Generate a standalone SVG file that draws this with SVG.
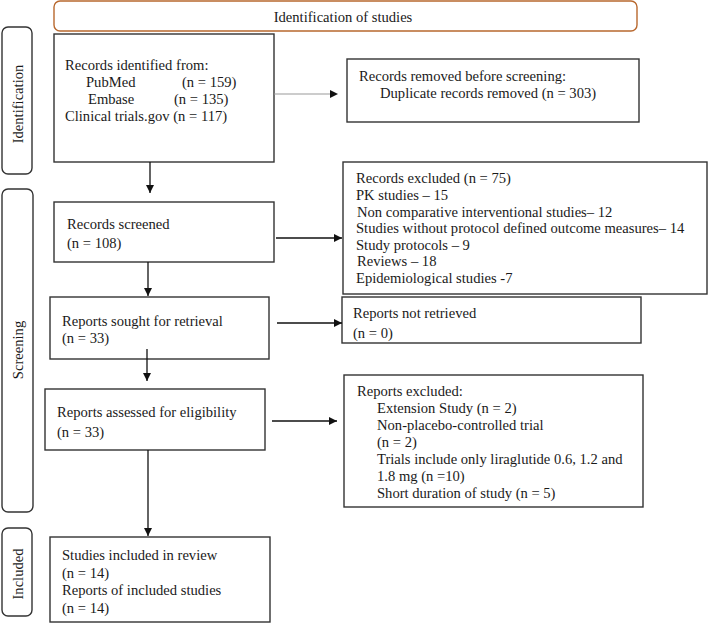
<svg xmlns="http://www.w3.org/2000/svg" width="708" height="623" viewBox="0 0 708 623">
<style>
text{font-family:"Liberation Serif","DejaVu Serif",serif;font-size:14.6px;fill:#1a1a1a}
.box{fill:#fff;stroke:#333;stroke-width:1.4}
.side{fill:#fff;stroke:#333;stroke-width:1.4}
.con{stroke:#111;stroke-width:1.3;fill:none}
.gray{stroke:#999;stroke-width:1}
</style>
<defs>
<marker id="ah" viewBox="0 0 10 10" refX="10" refY="5" markerWidth="8" markerHeight="8" markerUnits="userSpaceOnUse" orient="auto">
<path d="M0,0 L10,5 L0,10 z" fill="#111"/>
</marker>
</defs>
<rect width="708" height="623" fill="#fff"/>
<g id="title"><rect x="54" y="1" width="583" height="30" rx="6" fill="#fff" stroke="#b8682e" stroke-width="1.4"/>
<text x="343" y="22" text-anchor="middle">Identification of studies</text></g>
<g id="side-identification"><rect class="side" x="2" y="27" width="30" height="147" rx="6"/>
<text transform="translate(23,104) rotate(-90)" text-anchor="middle">Identification</text></g>
<g id="side-screening"><rect class="side" x="2" y="189" width="31" height="323" rx="6"/>
<text transform="translate(23,350) rotate(-90)" text-anchor="middle">Screening</text></g>
<g id="side-included"><rect class="side" x="2" y="528" width="30" height="88" rx="6"/>
<text transform="translate(23,574) rotate(-90)" text-anchor="middle">Included</text></g>
<g id="n-identified"><rect class="box" x="54" y="34" width="220" height="128"/>
<text x="65" y="70">Records identified from:</text>
<text x="86" y="87">PubMed</text><text x="182" y="87">(n = 159)</text>
<text x="88" y="104">Embase</text><text x="174" y="104">(n = 135)</text>
<text x="65" y="121">Clinical trials.gov (n = 117)</text></g>
<g id="n-removed"><rect class="box" x="347" y="59" width="292" height="63"/>
<text x="359" y="81">Records removed before screening:</text>
<text x="380" y="98">Duplicate records removed (n = 303)</text></g>
<g id="n-screened"><rect class="box" x="54" y="202" width="220" height="60"/>
<text x="67" y="229">Records screened</text>
<text x="67" y="248">(n = 108)</text></g>
<g id="n-excluded"><rect class="box" x="343" y="162" width="364" height="132"/>
<text x="356" y="183">Records excluded (n = 75)</text>
<text x="356" y="200">PK studies – 15</text>
<text x="357" y="217">Non comparative interventional studies– 12</text>
<text x="356" y="233">Studies without protocol defined outcome measures– 14</text>
<text x="356" y="250">Study protocols – 9</text>
<text x="357" y="266">Reviews – 18</text>
<text x="356" y="283">Epidemiological studies -7</text></g>
<g id="n-sought"><rect class="box" x="50" y="297" width="219" height="62"/>
<text x="62" y="326">Reports sought for retrieval</text>
<text x="62" y="343">(n = 33)</text></g>
<g id="n-notretrieved"><rect class="box" x="342" y="297" width="299" height="46"/>
<text x="353" y="318">Reports not retrieved</text>
<text x="353" y="338">(n = 0)</text></g>
<g id="n-assessed"><rect class="box" x="45" y="389" width="220" height="61"/>
<text x="57" y="417">Reports assessed for eligibility</text>
<text x="57" y="437">(n = 33)</text></g>
<g id="n-reportsexcluded"><rect class="box" x="344" y="375" width="299" height="132"/>
<text x="357" y="396">Reports excluded:</text>
<text x="377" y="413">Extension Study (n = 2)</text>
<text x="377" y="430">Non-placebo-controlled trial</text>
<text x="377" y="447">(n = 2)</text>
<text x="377" y="464">Trials include only liraglutide 0.6, 1.2 and</text>
<text x="377" y="481">1.8 mg (n =10)</text>
<text x="377" y="498">Short duration of study (n = 5)</text></g>
<g id="n-included"><rect class="box" x="50" y="537" width="220" height="85"/>
<text x="62" y="560">Studies included in review</text>
<text x="62" y="578">(n = 14)</text>
<text x="62" y="595">Reports of included studies</text>
<text x="62" y="613">(n = 14)</text></g>
<g id="connectors">
<line class="gray" x1="274" y1="94" x2="331" y2="94"/>
<path d="M330,90 L338,94 L330,98 z" fill="#111"/>
<line class="con" x1="150" y1="162" x2="150" y2="193" marker-end="url(#ah)"/>
<line class="con" x1="276" y1="238" x2="342" y2="238" marker-end="url(#ah)"/>
<line class="con" x1="148" y1="262" x2="148" y2="296" marker-end="url(#ah)"/>
<line class="con" x1="277" y1="323" x2="342" y2="323" marker-end="url(#ah)"/>
<line class="con" x1="147" y1="349" x2="147" y2="381" marker-end="url(#ah)"/>
<line class="con" x1="272" y1="421" x2="337" y2="421" marker-end="url(#ah)"/>
<line class="con" x1="148" y1="450" x2="148" y2="536" marker-end="url(#ah)"/>
</g>
</svg>
